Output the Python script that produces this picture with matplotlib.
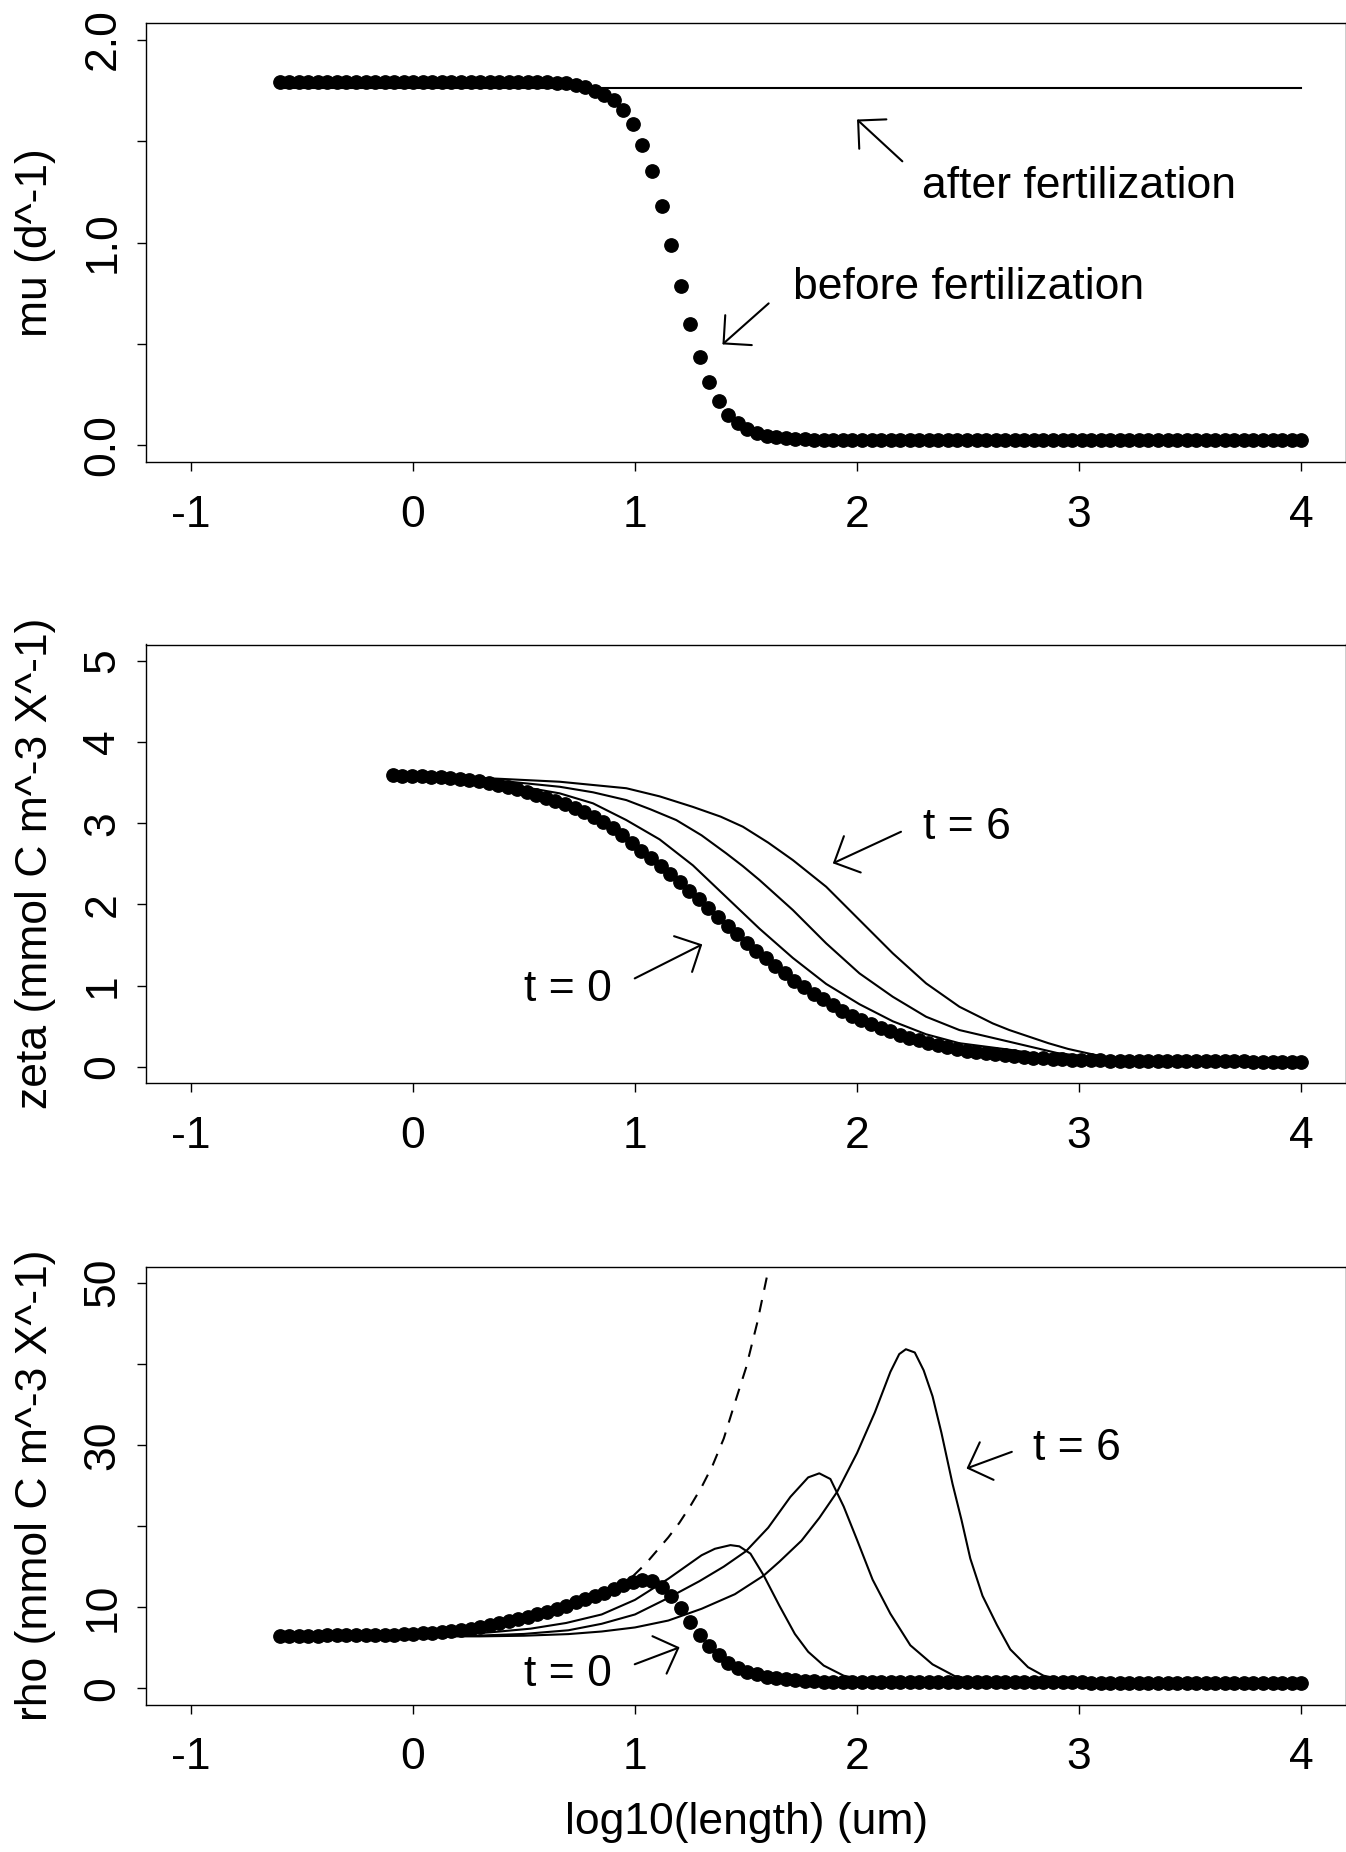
import numpy as np
import matplotlib
matplotlib.use("Agg")
import matplotlib.pyplot as plt

plt.rcParams['font.family'] = ['Liberation Sans', 'DejaVu Sans']
plt.rcParams['axes.unicode_minus'] = False

# ---- data ----
# panel 1: growth rate mu before / after fertilization
mu_before = ([1.79] * 29 +
             [1.787, 1.784, 1.777, 1.766, 1.748, 1.727, 1.703, 1.654, 1.583,
              1.481, 1.35, 1.182, 0.99, 0.788, 0.598, 0.438, 0.312, 0.217,
              0.151, 0.110, 0.081, 0.061, 0.048, 0.040, 0.035, 0.032, 0.030] +
             [0.028] * 52)
mu_after = [1.761] * len(mu_before)
x_mu = np.linspace(-0.6, 4.0, len(mu_before))

# panel 2: zeta, t = 0 points and t = 2, 4, 6 curves
zeta_t0 = [3.59, 3.585, 3.58, 3.575, 3.57, 3.563, 3.555, 3.545, 3.535, 3.515,
           3.495, 3.47, 3.445, 3.415, 3.385, 3.35, 3.315, 3.275, 3.235, 3.19,
           3.135, 3.08, 3.01, 2.935, 2.85, 2.75, 2.66, 2.57, 2.47, 2.37,
           2.27, 2.17, 2.06, 1.95, 1.84, 1.73, 1.63, 1.53, 1.43, 1.34,
           1.24, 1.15, 1.06, 0.98, 0.90, 0.83, 0.76, 0.69, 0.63, 0.575,
           0.525, 0.48, 0.435, 0.395, 0.36, 0.325, 0.295, 0.268, 0.243, 0.22,
           0.20, 0.183, 0.167, 0.152, 0.14, 0.13, 0.12, 0.112, 0.104, 0.097,
           0.091, 0.086, 0.083, 0.081, 0.079, 0.077, 0.076, 0.075, 0.074, 0.073,
           0.072, 0.071, 0.070, 0.069, 0.068, 0.067, 0.067, 0.066, 0.065, 0.065,
           0.064, 0.064, 0.063, 0.063, 0.062, 0.062]
x_zeta = np.linspace(-0.09, 4.0, len(zeta_t0))

zeta_t2_x = [-0.09, 0.2, 0.4, 0.55, 0.661, 0.811, 0.961, 1.111, 1.261, 1.411,
             1.561, 1.711, 1.861, 2.011, 2.161, 2.311, 2.461, 2.686, 2.9, 3.2, 4.0]
zeta_t2_y = [3.59, 3.55, 3.48, 3.42, 3.367, 3.244, 3.038, 2.80, 2.48, 2.09,
             1.70, 1.34, 1.02, 0.77, 0.56, 0.40, 0.29, 0.21, 0.12, 0.08, 0.062]
zeta_t4_x = [-0.09, 0.2, 0.4, 0.661, 0.811, 0.961, 1.07, 1.186, 1.3, 1.411, 1.486,
             1.561, 1.711, 1.861, 2.011, 2.161, 2.311, 2.461, 2.686, 2.9, 3.1, 3.3, 4.0]
zeta_t4_y = [3.59, 3.56, 3.52, 3.448, 3.38, 3.284, 3.17, 3.038, 2.85, 2.628, 2.47,
             2.299, 1.93, 1.52, 1.15, 0.862, 0.616, 0.452, 0.308, 0.17, 0.1, 0.08, 0.062]
zeta_t6_x = [-0.09, 0.2, 0.4, 0.661, 0.961, 1.111, 1.261, 1.386, 1.486, 1.6, 1.711,
             1.861, 2.011, 2.161, 2.311, 2.461, 2.611, 2.686, 2.862, 2.95, 3.04,
             3.15, 3.3, 4.0]
zeta_t6_y = [3.59, 3.57, 3.545, 3.51, 3.43, 3.33, 3.20, 3.08, 2.956, 2.76, 2.545,
             2.217, 1.807, 1.397, 1.027, 0.739, 0.534, 0.452, 0.29, 0.22, 0.165,
             0.1, 0.08, 0.062]

# panel 3: rho, t = 0 points, t = 2, 4, 6 curves and the dashed curve
rho_t0 = ([6.5, 6.5, 6.5, 6.5, 6.5, 6.51, 6.51, 6.52, 6.53, 6.55, 6.57, 6.6, 6.63, 6.66,
           6.7, 6.76, 6.83, 6.91, 7.02, 7.14, 7.35, 7.5, 7.75, 8.0, 8.25, 8.5, 8.8, 9.1,
           9.45, 9.8, 10.2, 10.6, 11.0, 11.4, 11.8, 12.25, 12.7, 13.1, 13.35, 13.2, 12.5, 11.4,
           9.9, 8.2, 6.6, 5.2, 4.05, 3.15, 2.5, 2.05, 1.72, 1.45, 1.26, 1.12, 0.97, 0.9,
           0.85, 0.81, 0.78, 0.76, 0.75] +
          [0.75] * 12 + [0.73] * 12 + [0.71] * 12 + [0.7] * 11)
x_rho = np.linspace(-0.6, 4.0, len(rho_t0))

rho_t2_x = [-0.6, 0.0, 0.2, 0.35, 0.53, 0.69, 0.85, 1.0, 1.15, 1.3, 1.36, 1.43, 1.47,
            1.52, 1.58, 1.65, 1.72, 1.78, 1.85, 1.94, 2.05, 2.2, 4.0]
rho_t2_y = [6.45, 6.5, 6.65, 6.9, 7.35, 8.05, 9.1, 10.9, 13.5, 16.4, 17.2, 17.65, 17.5,
            16.6, 13.9, 10.2, 6.7, 4.5, 2.8, 1.55, 0.95, 0.75, 0.65]
rho_t4_x = [-0.6, 0.0, 0.3, 0.5, 0.7, 0.85, 1.0, 1.14, 1.29, 1.4, 1.5, 1.6, 1.7, 1.78,
            1.83, 1.88, 1.94, 2.0, 2.07, 2.15, 2.24, 2.34, 2.44, 2.55, 2.7, 4.0]
rho_t4_y = [6.45, 6.45, 6.5, 6.7, 7.15, 7.95, 9.1, 11.0, 13.2, 15.0, 16.9, 19.8, 23.6, 26.0,
            26.5, 25.8, 22.4, 18.3, 13.4, 9.2, 5.3, 2.95, 1.5, 0.95, 0.75, 0.65]
rho_t6_x = [-0.6, 0.3, 0.5, 0.7, 0.85, 1.0, 1.15, 1.3, 1.45, 1.58, 1.65, 1.75, 1.83, 1.91,
            2.0, 2.08, 2.15, 2.19, 2.22, 2.26, 2.3, 2.34, 2.38, 2.43, 2.47, 2.51, 2.565,
            2.63, 2.69, 2.77, 2.84, 2.95, 3.1, 4.0]
rho_t6_y = [6.4, 6.4, 6.48, 6.68, 7.0, 7.5, 8.35, 9.8, 11.6, 13.9, 15.6, 18.2, 21.0, 24.2,
            29.0, 34.0, 39.0, 41.2, 41.8, 41.4, 39.2, 36.0, 31.5, 25.2, 20.8, 16.0, 11.4,
            7.8, 4.8, 2.6, 1.55, 0.95, 0.75, 0.65]
rho_dash_x = [0.99, 1.05, 1.1, 1.15, 1.2, 1.25, 1.3, 1.35, 1.4, 1.45, 1.5, 1.55, 1.6, 1.65]
rho_dash_y = [13.8, 15.4, 17.0, 18.6, 20.4, 22.5, 24.8, 27.5, 30.8, 35.2, 39.5, 45.0, 51.5, 58.0]

x_ticks = [-1, 0, 1, 2, 3, 4]
x_ticklabels = ["-1", "0", "1", "2", "3", "4"]

# ---- figure ----
W, H = 1346, 1852
fig = plt.figure(figsize=(W / 100, H / 100), dpi=100)
FS = 32
LW = 1.5
MS = 9.6


def make_axes(top_px, bottom_px):
    ax = fig.add_axes([146.4 / W, 1 - bottom_px / H, 1199.2 / W, (bottom_px - top_px) / H])
    ax.set_xlim(-1.2, 4.2)
    ax.set_xticks(x_ticks)
    ax.set_xticklabels(x_ticklabels)
    for s in ax.spines.values():
        s.set_linewidth(1.0)
    ax.tick_params(axis='both', direction='out', length=6.7, width=1.0, labelsize=FS)
    ax.tick_params(axis='x', pad=17)
    ax.tick_params(axis='y', pad=9.9)
    return ax


def set_yticks(ax, ticks, labels):
    ax.set_yticks(ticks)
    ax.set_yticklabels(labels, rotation=90, va='center', ha='right')


def ylabel(ax, text):
    b = ax.get_position()
    fig.text(56 / W, (b.y0 + b.y1) / 2, text, rotation=90, ha='right', va='center', fontsize=FS)


def arrow(ax, tail, head):
    ax.annotate('', xy=head, xytext=tail,
                arrowprops=dict(arrowstyle='->,head_length=0.72,head_width=0.72',
                                lw=LW, color='black', shrinkA=0, shrinkB=0,
                                mutation_scale=20))


def label(ax, x, y, s):
    ax.text(x, y, s, ha='center', va='baseline', fontsize=FS)


# panel 1
ax1 = make_axes(23.3, 461.7)
ax1.set_ylim(-0.08, 2.08)
set_yticks(ax1, [0, 0.5, 1.0, 1.5, 2.0], ["0.0", "", "1.0", "", "2.0"])
ax1.plot(x_mu, mu_after, color='black', lw=LW)
ax1.plot(x_mu, mu_before, 'o', color='black', ms=MS)
arrow(ax1, (2.204, 1.40), (2.0, 1.606))
label(ax1, 3.0, 1.22, "after fertilization")
arrow(ax1, (1.602, 0.700), (1.394, 0.498))
label(ax1, 2.5, 0.721, "before fertilization")
ylabel(ax1, "mu (d^-1)")

# panel 2
ax2 = make_axes(644.5, 1083)
ax2.set_ylim(-0.2, 5.2)
set_yticks(ax2, [0, 1, 2, 3, 4, 5], ["0", "1", "2", "3", "4", "5"])
ax2.plot(x_zeta, zeta_t0, 'o', color='black', ms=MS)
for xs, ys in [(zeta_t2_x, zeta_t2_y), (zeta_t4_x, zeta_t4_y), (zeta_t6_x, zeta_t6_y)]:
    ax2.plot(xs, ys, color='black', lw=LW)
arrow(ax2, (2.198, 2.894), (1.891, 2.505))
label(ax2, 2.495, 2.80, "t = 6")
arrow(ax2, (0.999, 1.088), (1.303, 1.507))
label(ax2, 0.697, 0.805, "t = 0")
ylabel(ax2, "zeta (mmol C m^-3 X^-1)")

# panel 3
ax3 = make_axes(1266.5, 1704.5)
ax3.set_ylim(-2, 52)
set_yticks(ax3, [0, 10, 20, 30, 40, 50], ["0", "10", "", "30", "", "50"])
ax3.plot(x_rho, rho_t0, 'o', color='black', ms=MS)
for xs, ys in [(rho_t2_x, rho_t2_y), (rho_t4_x, rho_t4_y), (rho_t6_x, rho_t6_y)]:
    ax3.plot(xs, ys, color='black', lw=LW)
ax3.plot(rho_dash_x, rho_dash_y, color='black', lw=LW, dashes=(6, 5))
arrow(ax3, (2.697, 29.15), (2.493, 27.1))
label(ax3, 2.99, 28.2, "t = 6")
arrow(ax3, (0.999, 2.96), (1.201, 5.05))
label(ax3, 0.696, 0.28, "t = 0")
ylabel(ax3, "rho (mmol C m^-3 X^-1)")
fig.text(746.4 / W, 1 - 1833.7 / H, "log10(length) (um)", ha='center', va='baseline', fontsize=FS)

fig.savefig("out.png", dpi=100)
